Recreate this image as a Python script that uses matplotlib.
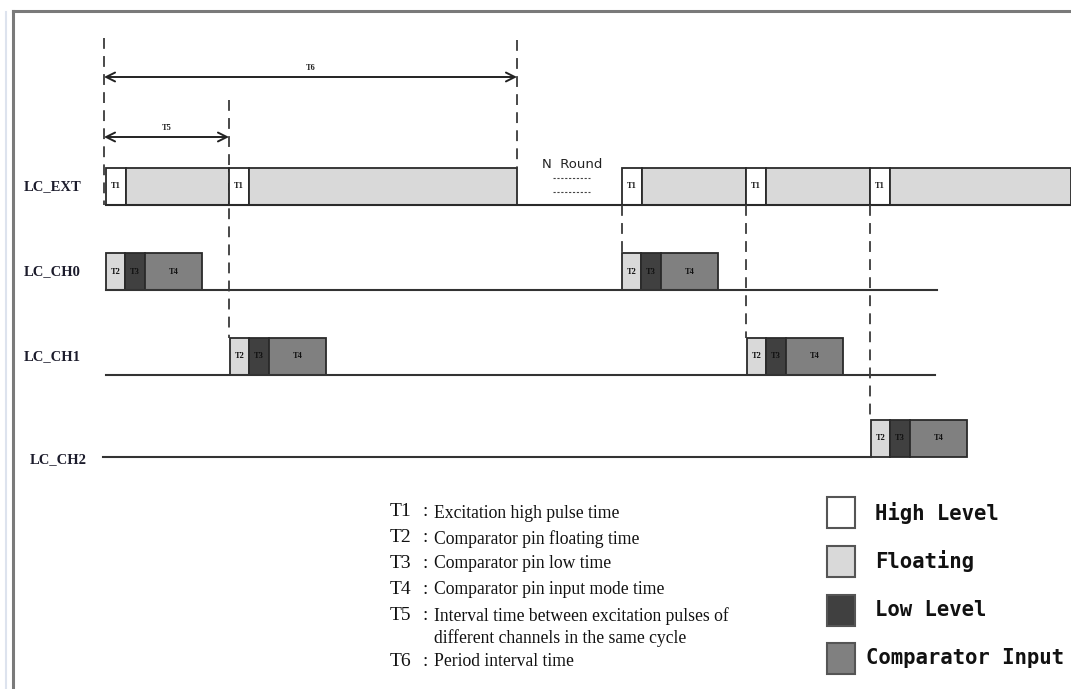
import matplotlib
matplotlib.use("Agg")
import matplotlib.pyplot as plt
from matplotlib.patches import Rectangle

# timing data (horizontal units = time ticks on the drawing)
ext_starts = [106, 229, 622, 746, 870]
ext_ends = [229, 517, 746, 870, 1071]
t1_width = 20

channels = ["LC_CH0", "LC_CH1", "LC_CH2"]
ch_starts = [[106, 622], [230, 747], [871]]
ch_line_end = [937, 935, 871]
phase_widths = [19, 20, 57]          # T2, T3, T4
phase_names = ["T2", "T3", "T4"]

row_names = ["LC_EXT"] + channels
row_base = [205, 290, 375, 457]
pulse_h = 37

t5_span = [104, 229]
t6_span = [104, 517]

legend_labels = ["High Level", "Floating", "Low Level", "Comparator Input"]
legend_colors = ["#ffffff", "#d9d9d9", "#404040", "#808080"]

desc_keys = ["T1", "T2", "T3", "T4", "T5", "", "T6"]
desc_texts = ["Excitation high pulse time",
              "Comparator pin floating time",
              "Comparator pin low time",
              "Comparator pin input mode time",
              "Interval time between excitation pulses of",
              "different channels in the same cycle",
              "Period interval time"]
desc_y = [512, 538, 563, 589, 615, 637, 661]

WHITE, LIGHT, DARK, MID = legend_colors
EDGE = "#2a2a2a"

fig = plt.figure(figsize=(10.71, 6.89), dpi=100)
ax = fig.add_axes([0, 0, 1, 1])
ax.set_xlim(0, 1071)
ax.set_ylim(689, 0)
ax.axis("off")

# outer frame
ax.plot([6, 6], [12, 689], color="#dde3ee", lw=1.5)
ax.plot([13, 13], [11, 689], color="#7a7a7a", lw=2.2)
ax.plot([13, 1071], [11, 11], color="#7a7a7a", lw=2.2)


def box(x, y, w, h, fc, label=None, fs=6):
    ax.add_patch(Rectangle((x, y), w, h, facecolor=fc, edgecolor=EDGE, lw=1.3))
    if label:
        ax.text(x + w / 2, y + h / 2, label, ha="center", va="center",
                fontsize=fs, family="Liberation Serif", fontweight="bold", color="#111")


# LC_EXT row
yb = row_base[0]
ax.plot([ext_starts[0], 1071], [yb, yb], color=EDGE, lw=1.5)
for s, e in zip(ext_starts, ext_ends):
    box(s, yb - pulse_h, t1_width, pulse_h, WHITE, "T1")
    box(s + t1_width, yb - pulse_h, e - s - t1_width, pulse_h, LIGHT)

# channel rows
for i, name in enumerate(channels):
    yb = row_base[i + 1]
    x0 = ch_starts[0][0] if i < 2 else 103
    ax.plot([x0, ch_line_end[i]], [yb, yb], color="#333", lw=1.5)
    for s in ch_starts[i]:
        x = s
        for w, c, lab in zip(phase_widths, [LIGHT, DARK, MID], phase_names):
            box(x, yb - pulse_h, w, pulse_h, c, lab)
            x += w

# row labels
for name, yb in zip(row_names, row_base):
    if name == "LC_CH2":
        xl, yl = 30, yb + 3
    else:
        xl, yl = 24, yb - pulse_h / 2
    ax.text(xl, yl, name, ha="left", va="center", fontsize=10.5,
            family="Liberation Serif", fontweight="bold", color="#1c1c2c")

# dashed guide lines
dash = dict(color="#3a3a3a", lw=1.3, ls=(0, (6, 4)))
ax.plot([t6_span[0]] * 2, [38, row_base[0]], **dash)
ax.plot([t5_span[1]] * 2, [100, row_base[2] - pulse_h], **dash)
ax.plot([t6_span[1]] * 2, [40, row_base[0] - pulse_h], **dash)
for i in range(3):
    ax.plot([ext_starts[2 + i]] * 2, [row_base[0], row_base[i + 1] - pulse_h], **dash)

# T5 / T6 arrows
for span, y, lab in [(t6_span, 77, "T6"), (t5_span, 137, "T5")]:
    ax.annotate("", xy=(span[1], y), xytext=(span[0], y),
                arrowprops=dict(arrowstyle="<->", color="#222", lw=1.4,
                                shrinkA=0, shrinkB=0, mutation_scale=16))
    ax.text((span[0] + span[1]) / 2, y - 9, lab, ha="center", va="center",
            fontsize=6, family="Liberation Serif", fontweight="bold", color="#222")

# N Round gap
ax.text(572, 165, "N  Round", ha="center", va="center", fontsize=9.5,
        family="DejaVu Sans", color="#222")
for y in (178, 192):
    ax.plot([553, 590], [y, y], color="#444", lw=0.8, ls=(0, (2, 1.5)))

# description
for key, txt, y in zip(desc_keys, desc_texts, desc_y):
    if key:
        ax.text(390, y, key, ha="left", va="center", fontsize=14,
                family="Liberation Serif", color="#111")
        ax.text(422, y, ":", ha="left", va="center", fontsize=14,
                family="Liberation Serif", color="#111")
    ax.text(434, y + 1, txt, ha="left", va="center", fontsize=12.7,
            family="Liberation Serif", color="#111")

# legend
leg_y = [497, 546, 595, 643]
for lab, col, y in zip(legend_labels, legend_colors, leg_y):
    ax.add_patch(Rectangle((827, y), 28, 31, facecolor=col, edgecolor="#555", lw=1.5))
    ax.text(875 if lab != "Comparator Input" else 866, y + 15.5, lab,
            ha="left", va="center", fontsize=14.9, family="DejaVu Sans Mono",
            fontweight="bold", color="#111")

fig.savefig("out.png", dpi=100)
